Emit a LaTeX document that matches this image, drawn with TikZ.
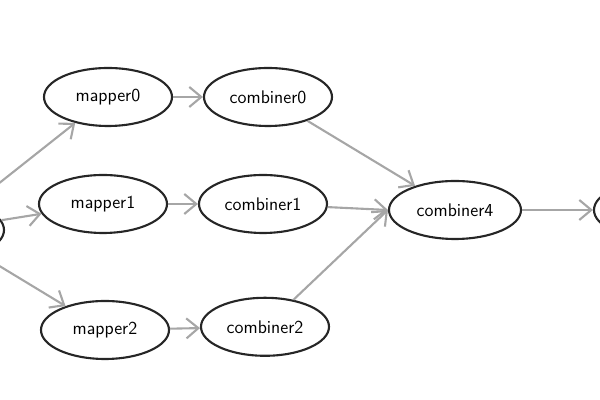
\documentclass[tikz,border=0pt]{standalone}
\usepackage{tikz}
\usetikzlibrary{shapes.geometric,arrows.meta}

\begin{document}
\begin{tikzpicture}[node distance={40mm}, line width=1.5pt,
		main/.style={draw=black!85, ellipse, minimum width=32mm, minimum height=14.5mm, inner sep=0pt, font=\sffamily\fontsize{13}{15}\selectfont},
		flow/.style={draw=black!35, -{Straight Barb[length=3mm,width=5mm]}}]
		\useasboundingbox (0,0) rectangle (15,10);
		\clip (0,0) rectangle (15,10);
		\node[main] (src) at (-1.5,4.25) {};
		\node[main] (m0) at (2.7,7.575) {mapper0};
		\node[main] (m1) at (2.575,4.9) {mapper1};
		\node[main] (m2) at (2.625,1.75) {mapper2};
		\node[main] (c0) [right of = m0] {combiner0};
		\node[main] (c1) [right of = m1] {combiner1};
		\node[main] (c2) [right of = m2, yshift=0.8mm] {combiner2};
		\node[main, minimum width=33mm] (c4) at (11.375,4.75) {combiner4};
		\node[main] (out) at (16.45,4.75) {};

		\draw[flow] (src) -- (m0);
		\draw[flow] (src) -- (m1);
		\draw[flow] (src) -- (m2);
		\draw[flow] (m0) -- (c0);
		\draw[flow] (m1) -- (c1);
		\draw[flow] (m2) -- (c2);
		\draw[flow] (c0) -- (c4);
		\draw[flow] (c1) -- (c4.west);
		\draw[flow] (c2) -- (c4.west);
		\draw[flow] (c4) -- (out);
	\end{tikzpicture}
\end{document}
